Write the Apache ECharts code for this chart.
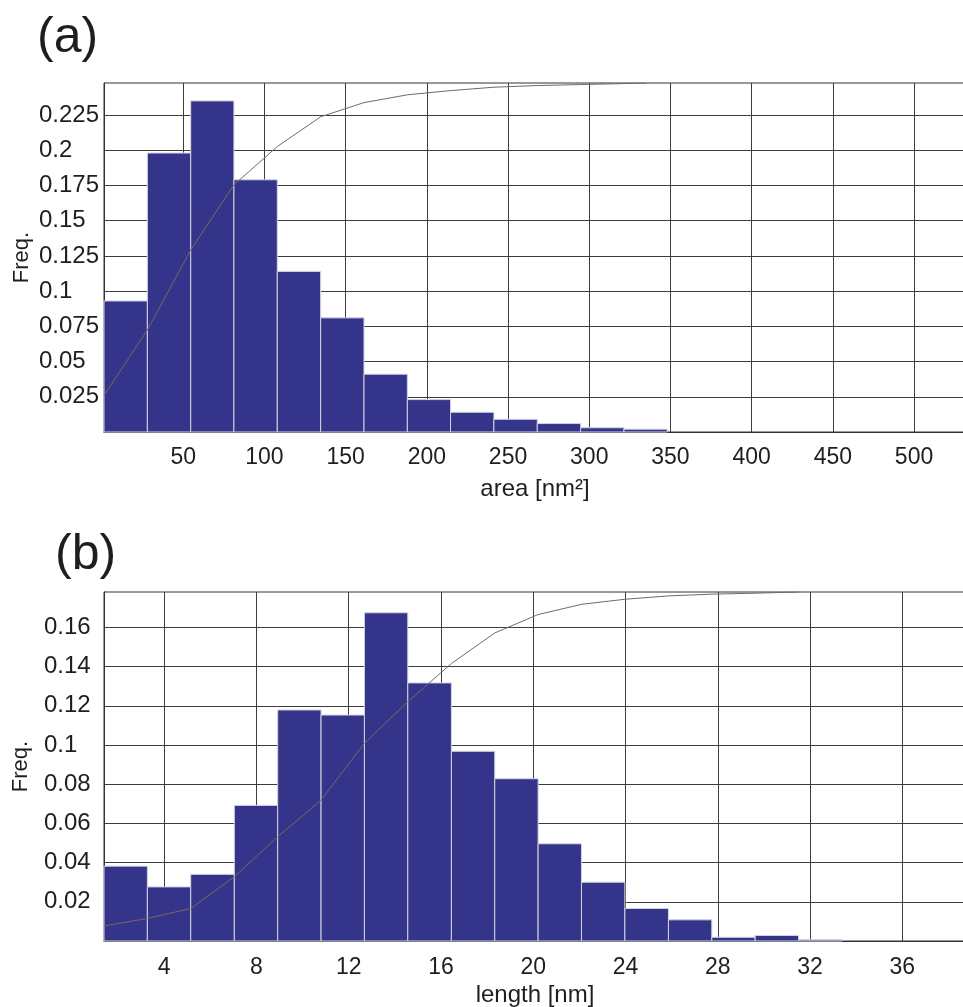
<!DOCTYPE html>
<html>
<head>
<meta charset="utf-8">
<script src="https://cdn.jsdelivr.net/npm/echarts@6/dist/echarts.min.js"></script>
<style>
  html, body { margin: 0; padding: 0; background: #fff; }
  #chart { width: 963px; height: 1007px; }
</style>
</head>
<body>
<div id="chart"></div>
<script>
// (a) area histogram
const areaEdges = [1.2, 27.9, 54.6, 81.2, 107.9, 134.6, 161.3, 188.0, 214.6, 241.3, 268.0, 294.7, 321.4, 348.0];
const areaFreq = [0.093, 0.198, 0.235, 0.179, 0.114, 0.081, 0.041, 0.023, 0.014, 0.009, 0.006, 0.003, 0.002];
const areaCurveX = [1.2, 27.9, 54.6, 81.2, 107.9, 134.6, 161.3, 188.0, 214.6, 241.3, 268.0, 294.7, 321.4, 335.0];
const areaCurveY = [0.026, 0.0724, 0.1292, 0.1754, 0.2026, 0.2237, 0.2338, 0.2393, 0.2423, 0.2447, 0.2459, 0.2466, 0.2473, 0.2477];
const areaXTicks = [50, 100, 150, 200, 250, 300, 350, 400, 450, 500];
const areaYTicks = [0.025, 0.05, 0.075, 0.1, 0.125, 0.15, 0.175, 0.2, 0.225];

// (b) length histogram
const lenEdges = [1.39, 3.27, 5.15, 7.04, 8.92, 10.80, 12.68, 14.56, 16.45, 18.33, 20.21, 22.09, 23.97, 25.86, 27.74, 29.62, 31.50, 33.38];
const lenFreq = [0.0382, 0.0276, 0.0340, 0.0692, 0.1179, 0.1153, 0.1675, 0.1317, 0.0968, 0.0828, 0.0496, 0.0300, 0.0166, 0.0108, 0.0019, 0.0028, 0.0006];
const lenCurveX = [1.39, 3.27, 5.15, 7.04, 8.92, 10.80, 12.68, 14.56, 16.45, 18.33, 20.21, 22.09, 23.97, 25.86, 27.74, 29.62, 31.50];
const lenCurveY = [0.0077, 0.0115, 0.0166, 0.0328, 0.0532, 0.0719, 0.1009, 0.1221, 0.1416, 0.1572, 0.1666, 0.1718, 0.1744, 0.1761, 0.1770, 0.1775, 0.1781];
const lenXTicks = [4, 8, 12, 16, 20, 24, 28, 32, 36];
const lenYTicks = [0.02, 0.04, 0.06, 0.08, 0.1, 0.12, 0.14, 0.16];

const FONT = 'Liberation Sans, Arial, Helvetica, sans-serif';
const INK = '#1e1e1e';
const GRIDLINE = '#3c3c3c';
const BAR = '#34348b';
const CURVE = '#7b6564';

function bins(edges, freq) {
  return freq.map((f, i) => [edges[i], edges[i + 1], f]);
}

function pairs(xs, ys) {
  return xs.map((x, i) => [x, ys[i]]);
}

function fmt(v) {
  return String(+v.toFixed(4));
}

function renderBin(params, api) {
  const p0 = api.coord([api.value(0), api.value(2)]);
  const p1 = api.coord([api.value(1), 0]);
  return {
    type: 'rect',
    shape: { x: p0[0], y: p0[1], width: p1[0] - p0[0], height: p1[1] - p0[1] },
    style: { fill: BAR, stroke: '#d2d3de', lineWidth: 1 }
  };
}

function xAxis(idx, min, max, ticks, name, margin, gap) {
  return {
    type: 'value', gridIndex: idx, min: min, max: max,
    name: name, nameLocation: 'middle', nameGap: gap, nameMoveOverlap: false,
    nameTextStyle: { fontFamily: FONT, fontSize: 24, color: INK },
    axisLine: { show: true, lineStyle: { color: '#333', width: 1 } },
    axisTick: { show: false, customValues: ticks },
    axisLabel: { customValues: ticks, fontFamily: FONT, fontSize: 23, color: INK, margin: margin, formatter: fmt },
    splitLine: { show: true, lineStyle: { color: GRIDLINE, width: 1 } }
  };
}

function yAxis(idx, max, ticks, margin, gap) {
  return {
    type: 'value', gridIndex: idx, min: 0, max: max,
    name: 'Freq.', nameLocation: 'middle', nameGap: gap, nameMoveOverlap: false,
    nameTextStyle: { fontFamily: FONT, fontSize: 22, color: INK },
    axisLine: { show: true, lineStyle: { color: '#333', width: 1 } },
    axisTick: { show: false, customValues: ticks },
    axisLabel: { customValues: ticks, fontFamily: FONT, fontSize: 24, color: INK, margin: margin, align: 'left', formatter: fmt },
    splitLine: { show: true, lineStyle: { color: GRIDLINE, width: 1 } }
  };
}

const chart = echarts.init(document.getElementById('chart'), null, { renderer: 'canvas' });

chart.setOption({
  animation: false,
  backgroundColor: '#fff',
  title: [
    { text: '(a)', left: 32, top: 8, textStyle: { fontFamily: FONT, fontSize: 50, fontWeight: 'normal', color: INK } },
    { text: '(b)', left: 50, top: 525, textStyle: { fontFamily: FONT, fontSize: 50, fontWeight: 'normal', color: INK } }
  ],
  grid: [
    { left: 104, top: 83, right: -3, height: 349, show: true, borderColor: '#333', borderWidth: 1, backgroundColor: '#fff', outerBoundsMode: 'none' },
    { left: 104, top: 592, right: -3, height: 349, show: true, borderColor: '#333', borderWidth: 1, backgroundColor: '#fff', outerBoundsMode: 'none' }
  ],
  xAxis: [
    xAxis(0, 1.2, 532, areaXTicks, 'area [nm²]', 14, 45),
    xAxis(1, 1.39, 38.76, lenXTicks, 'length [nm]', 15, 42)
  ],
  yAxis: [
    yAxis(0, 0.2477, areaYTicks, 65, 71),
    yAxis(1, 0.1781, lenYTicks, 60, 72)
  ],
  series: [
    { type: 'custom', xAxisIndex: 0, yAxisIndex: 0, renderItem: renderBin, data: bins(areaEdges, areaFreq), z: 2 },
    { type: 'line', xAxisIndex: 0, yAxisIndex: 0, data: pairs(areaCurveX, areaCurveY), showSymbol: false, symbol: 'none',
      lineStyle: { color: CURVE, width: 1 }, z: 3 },
    { type: 'custom', xAxisIndex: 1, yAxisIndex: 1, renderItem: renderBin, data: bins(lenEdges, lenFreq), z: 2 },
    { type: 'line', xAxisIndex: 1, yAxisIndex: 1, data: pairs(lenCurveX, lenCurveY), showSymbol: false, symbol: 'none',
      lineStyle: { color: CURVE, width: 1 }, z: 3 }
  ]
});
</script>
</body>
</html>
